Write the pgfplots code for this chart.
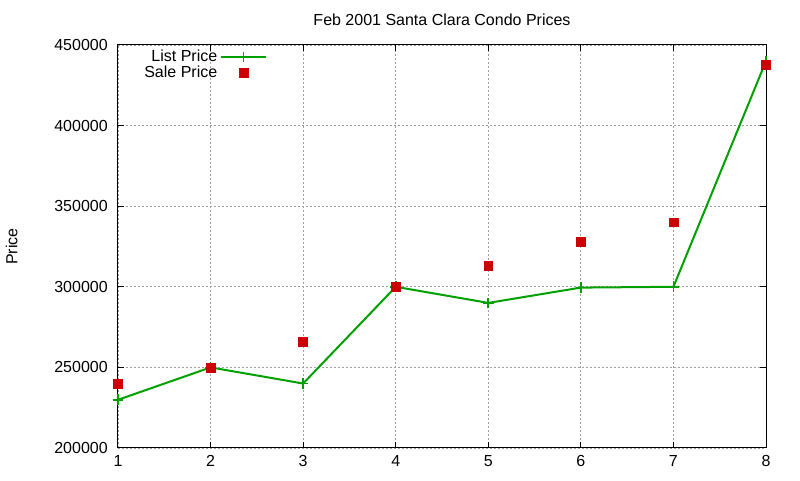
\documentclass[border=0pt]{standalone}
\usepackage{pgfplots}
\pgfplotsset{compat=1.18}
\usepackage{fontspec}
\setmainfont{Liberation Sans}

\definecolor{listgreen}{RGB}{0,160,0}
\definecolor{salered}{RGB}{204,0,0}

\begin{document}
\begin{tikzpicture}
\fontsize{12}{14}\selectfont
\begin{axis}[
  name=ax,
  scale only axis,
  width=486pt, height=302.25pt,
  xmin=1, xmax=8, ymin=200000, ymax=450000,
  xtick={1,...,8},
  ytick={200000,250000,...,450000},
  scaled y ticks=false,
  /pgf/number format/.cd, fixed, 1000 sep={}, assume math mode=true,
  /pgfplots/.cd,
  tick label style={font=\fontsize{12}{14}\selectfont},
  tick align=inside,
  major tick length=4.5pt,
  axis line style={line width=0.75pt},
  every tick/.style={black, line width=0.75pt},
  grid=major,
  major grid style={gray!75, line width=0.6pt, dash pattern=on 1.5pt off 1.5pt},
  yticklabel style={xshift=-3.5pt},
  xticklabel style={yshift=-1.5pt},
  title={Feb 2001 Santa Clara Condo Prices},
  title style={at={(0.5,1)}, anchor=base, yshift=8.6pt, font=\fontsize{12}{14}\selectfont},
  ylabel={Price},
  ylabel style={at={(axis description cs:-0.164,0.5)}, anchor=center, font=\fontsize{12}{14}\selectfont},
  legend cell align=right,
  legend plot pos=right,
  legend style={draw=none, fill=none, at={(0.231,0.995)}, anchor=north east,
    row sep=-2.5pt, inner sep=0pt, font=\fontsize{12}{14}\selectfont},
  legend image code/.code={\draw[mark repeat=2,mark phase=2]
    plot coordinates {(0cm,0cm)(0.6cm,0cm)(1.2cm,0cm)};},
]
\addplot[color=listgreen, line width=1.5pt, mark=+, mark size=4pt,
  mark options={line width=1.2pt}]
  coordinates {(1,229900) (2,250000) (3,240000) (4,300000) (5,290000)
    (6,299500) (7,300000) (8,440000)};
\addlegendentry{List Price}
\addplot[only marks, color=salered, mark=square*, mark size=3.3pt]
  coordinates {(1,240000) (2,250000) (3,266000) (4,300000) (5,313000)
    (6,328000) (7,340000) (8,437500)};
\addlegendentry{Sale Price}
\end{axis}
\pgfresetboundingbox
\path ([xshift=-88.5pt,yshift=-24pt]ax.south west) rectangle ([xshift=25.5pt,yshift=33.75pt]ax.north east);
\end{tikzpicture}
\end{document}
